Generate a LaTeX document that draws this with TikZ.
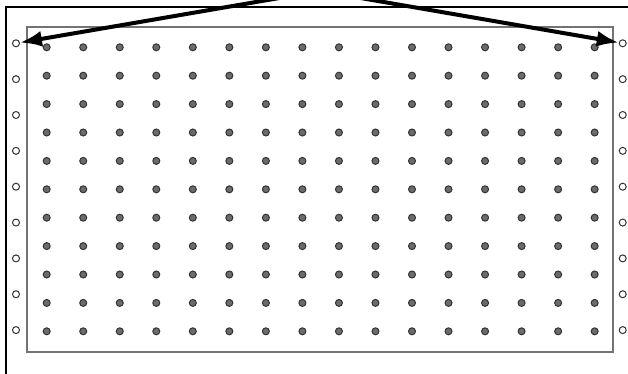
\documentclass[tikz,border=0pt]{standalone}
\usepackage{tikz}
\usetikzlibrary{positioning,arrows.meta}
\begin{document}
\begin{tikzpicture}[x=1pt,y=-1pt,>={Latex[length=22pt,width=16pt]},
    hole/.style={circle,draw=black!80,fill=black!58,line width=1pt,inner sep=0pt,minimum size=7pt},
    pin/.style={circle,draw=black!80,fill=white,line width=1pt,inner sep=0pt,minimum size=7pt}]

    \useasboundingbox (0,0) rectangle (628,374);
    \clip (0,0) rectangle (628,374);

    % outer frame and board
    \draw[line width=2.2pt] (6,400) -- (6,7) -- (640,7);
    \draw[black!55,line width=1.4pt] (27,27) rectangle (613,352);

    \foreach \r in {0,...,10}
      \foreach \c in {0,...,15}
        \node[hole] (hole-\c-\r) at ({46.7+36.53*\c},{47.3+28.4*\r}) {};

    \foreach \k in {0,...,8} {
      \node[pin] (pinL-\k) at (16,{43.3+35.85*\k}) {};
      \node[pin] (pinR-\k) at (622.7,{43.3+35.85*\k}) {};
    }

    \coordinate (apex) at (320,-9);
    \draw[->,line width=4pt] (apex) -- (pinL-0);
    \draw[->,line width=4pt] (apex) -- (pinR-0);
\end{tikzpicture}
\end{document}
